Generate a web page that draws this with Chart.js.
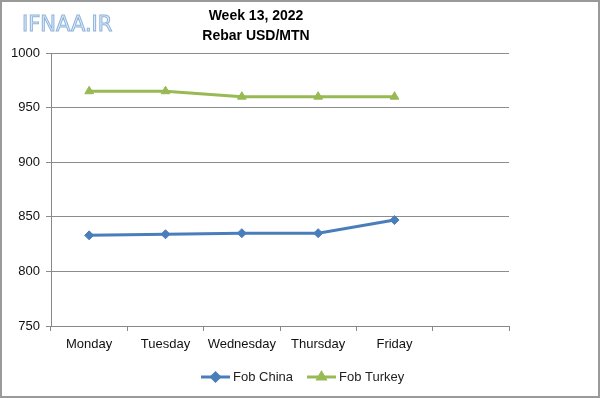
<!DOCTYPE html>
<html><head><meta charset="utf-8">
<script src="https://cdn.jsdelivr.net/npm/chart.js@4/dist/chart.umd.min.js"></script>
<style>html,body{margin:0;padding:0;background:#fff}#wrap{width:600px;height:398px}</style>
</head><body><div id="wrap"><canvas id="c" width="600" height="398"></canvas></div>
<script>
const categories = ['Monday','Tuesday','Wednesday','Thursday','Friday',''];
const fobChina = [833, 834, 835, 835, 847, null];
const fobTurkey = [965, 965, 960, 960, 960, null];
const yTicks = [750, 800, 850, 900, 950, 1000];
const titleLines = ['Week 13, 2022', 'Rebar USD/MTN'];
const seriesNames = ['Fob China', 'Fob Turkey'];
const watermark = 'IFNAA.IR';

const FONT = '"Liberation Sans", Arial, sans-serif';
const BLUE = '#4A7EBB', GREEN = '#98B954';

const deco = {
  id: 'deco',
  beforeDraw(chart) {
    const ctx = chart.ctx;
    ctx.save();
    ctx.fillStyle = '#fff';
    ctx.fillRect(0, 0, 600, 398);
    ctx.restore();
  },
  afterDraw(chart) {
    const ctx = chart.ctx;
    ctx.save();
    // border
    ctx.strokeStyle = '#9a9a9a';
    ctx.lineWidth = 2;
    ctx.strokeRect(1, 1, 598, 396);
    // watermark
    ctx.font = '21px "DejaVu Sans", sans-serif';
    ctx.textBaseline = 'middle';
    ctx.textAlign = 'left';
    ctx.fillStyle = '#e2ecf7';
    ctx.strokeStyle = '#8fb4dc';
    ctx.lineWidth = 1;
    ctx.fillText(watermark, 22, 26);
    ctx.strokeText(watermark, 22, 26);
    // title
    ctx.fillStyle = '#000';
    ctx.font = 'bold 14px ' + FONT;
    ctx.textAlign = 'center';
    ctx.fillText(titleLines[0], 256, 16);
    ctx.fillText(titleLines[1], 256, 36);
    // legend
    const items = [
      {x: 201, name: seriesNames[0], color: BLUE, style: 'rectRot'},
      {x: 307, name: seriesNames[1], color: GREEN, style: 'triangle'}
    ];
    const y = 377;
    items.forEach(it => {
      ctx.strokeStyle = it.color;
      ctx.lineWidth = 3;
      ctx.beginPath(); ctx.moveTo(it.x, y); ctx.lineTo(it.x + 29, y); ctx.stroke();
      ctx.fillStyle = it.color;
      Chart.helpers.drawPoint(ctx, {pointStyle: it.style, radius: 4, borderWidth: 1}, it.x + 14.5, y);
      ctx.fillStyle = '#222';
      ctx.font = '13px ' + FONT;
      ctx.textAlign = 'left';
      ctx.fillText(it.name, it.x + 32, y);
    });
    ctx.restore();
  }
};

new Chart(document.getElementById('c'), {
  type: 'line',
  data: {
    labels: categories,
    datasets: [
      {label: seriesNames[0], data: fobChina, borderColor: BLUE, backgroundColor: BLUE,
       borderWidth: 3, pointStyle: 'rectRot', pointRadius: 4.5, pointBorderWidth: 1, tension: 0},
      {label: seriesNames[1], data: fobTurkey, borderColor: GREEN, backgroundColor: GREEN,
       borderWidth: 3, pointStyle: 'triangle', pointRadius: 5, pointBorderWidth: 1, tension: 0}
    ]
  },
  options: {
    responsive: false,
    animation: false,
    events: [],
    layout: {padding: {left: 0, right: 91, top: 53, bottom: 0}},
    plugins: {legend: {display: false}, title: {display: false}, tooltip: {enabled: false}},
    scales: {
      x: {
        offset: true,
        afterFit(s) { s.height = 72; },
        grid: {offset: true, drawOnChartArea: false, drawTicks: true, tickLength: 5, color: '#888', lineWidth: 1},
        border: {color: '#888', width: 1},
        ticks: {color: '#111', font: {family: FONT, size: 13}, padding: 6, maxRotation: 0, autoSkip: false}
      },
      y: {
        min: 750, max: 1000,
        afterFit(s) { s.width = 51; },
        afterBuildTicks(s) { s.ticks = yTicks.map(v => ({value: v})); },
        grid: {color: '#8c8c8c', lineWidth: 1, drawTicks: true, tickLength: 5},
        border: {color: '#888', width: 1},
        ticks: {color: '#111', font: {family: FONT, size: 13}, padding: 6, callback: v => String(v)}
      }
    }
  },
  plugins: [deco]
});
</script></body></html>
